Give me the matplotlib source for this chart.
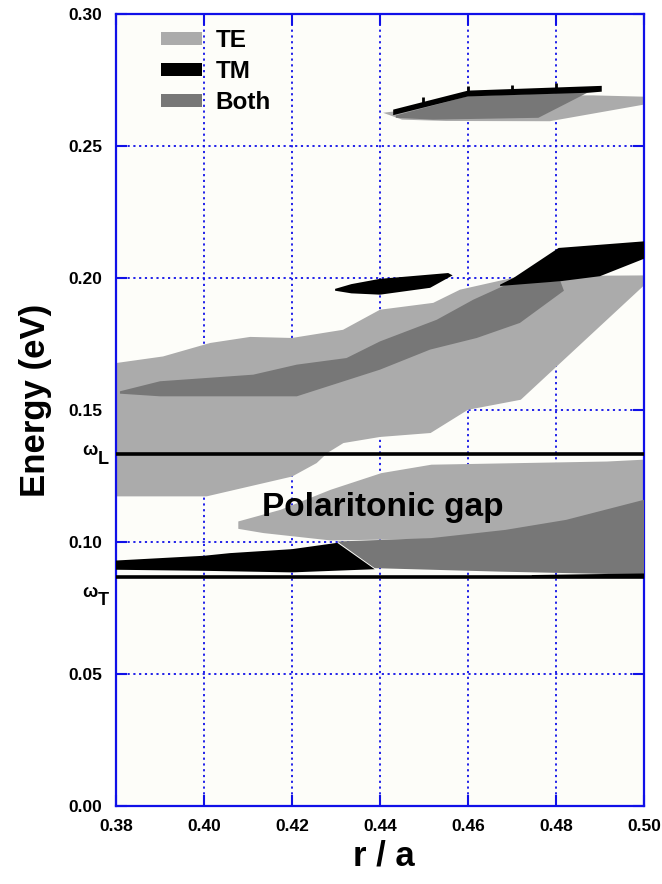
import matplotlib
matplotlib.use("Agg")
import matplotlib.pyplot as plt
import matplotlib.transforms as mtransforms
from matplotlib.patches import Patch

plt.rcParams['font.family'] = ['Liberation Sans', 'DejaVu Sans']
plt.rcParams['font.weight'] = 'bold'

# band edges: (r/a, energy) vertices, upper edge then lower edge
te_main_x = [0.38, 0.3907, 0.4014, 0.4105, 0.42, 0.4316, 0.44, 0.4521, 0.4582, 0.4718, 0.50,
             0.50, 0.472, 0.46, 0.4515, 0.44, 0.4317, 0.428, 0.4256, 0.42, 0.4006, 0.38]
te_main_y = [0.1676, 0.1701, 0.1752, 0.1775, 0.1771, 0.1802, 0.1878, 0.1904, 0.1954, 0.2005, 0.2008,
             0.1970, 0.1537, 0.1499, 0.1411, 0.1396, 0.1373, 0.1335, 0.1297, 0.1246, 0.1171, 0.1171]

both_mid_x = [0.3809, 0.39, 0.4112, 0.4211, 0.4324, 0.44, 0.4529, 0.4612, 0.4695, 0.481,
              0.4818, 0.4718, 0.462, 0.4514, 0.44, 0.4211, 0.39, 0.3809]
both_mid_y = [0.1569, 0.1607, 0.1632, 0.1670, 0.1695, 0.1758, 0.1840, 0.1916, 0.1979, 0.1986,
              0.1950, 0.1828, 0.1771, 0.1727, 0.1651, 0.1550, 0.1550, 0.1560]

tm_high_x = [0.4673, 0.4704, 0.4806, 0.50, 0.50, 0.49, 0.481, 0.4673]
tm_high_y = [0.1973, 0.1999, 0.2112, 0.2137, 0.2071, 0.2005, 0.1986, 0.1968]

tm_island_x = [0.4298, 0.4335, 0.44, 0.4555, 0.4565, 0.4514, 0.44, 0.4335, 0.4298]
tm_island_y = [0.1957, 0.1975, 0.1995, 0.2017, 0.2008, 0.1961, 0.1935, 0.1940, 0.1950]

te_low_x = [0.4078, 0.4174, 0.4288, 0.4403, 0.4517, 0.4916, 0.50,
            0.50, 0.4823, 0.4685, 0.4517, 0.4288, 0.4135, 0.4078]
te_low_y = [0.1076, 0.1120, 0.1196, 0.1259, 0.1291, 0.1303, 0.1310,
            0.1150, 0.1075, 0.1040, 0.1010, 0.1004, 0.1032, 0.1048]

both_low_x = [0.4303, 0.4517, 0.4685, 0.4823, 0.50, 0.50, 0.467, 0.4388]
both_low_y = [0.1000, 0.1013, 0.1044, 0.1082, 0.1158, 0.0874, 0.0886, 0.0899]

tm_low_x = [0.38, 0.40, 0.4059, 0.42, 0.4303, 0.4388, 0.42, 0.40, 0.38]
tm_low_y = [0.0928, 0.0946, 0.0956, 0.0971, 0.0995, 0.0895, 0.0883, 0.0889, 0.0893]

tm_sliver_x = [0.4745, 0.50, 0.50, 0.4745]
tm_sliver_y = [0.0873, 0.0879, 0.0866, 0.0866]

te_top_x = [0.4407, 0.445, 0.455, 0.4786, 0.50, 0.50, 0.4884, 0.46, 0.4436]
te_top_y = [0.2624, 0.2598, 0.2593, 0.2592, 0.2655, 0.2685, 0.2690, 0.2688, 0.2630]

both_top_x = [0.4436, 0.46, 0.4875, 0.476, 0.452, 0.4436]
both_top_y = [0.2614, 0.2687, 0.2703, 0.2605, 0.2598, 0.2605]

tm_top_x = [0.443, 0.46, 0.4904, 0.4904, 0.4875, 0.46, 0.443]
tm_top_y = [0.2636, 0.2708, 0.2726, 0.2704, 0.2700, 0.2686, 0.2615]

spike_x = [0.4498, 0.46, 0.4699, 0.48]
spike_lo = [0.2660, 0.2700, 0.2710, 0.2712]
spike_hi = [0.2682, 0.2724, 0.2728, 0.2736]

omega_L = 0.1331
omega_T = 0.0867

xticks = [0.38, 0.40, 0.42, 0.44, 0.46, 0.48, 0.50]
yticks = [0.00, 0.05, 0.10, 0.15, 0.20, 0.25, 0.30]

light = '#ababab'
dark = '#777777'
blue = '#1010e8'

fig = plt.figure(figsize=(6.62, 8.84), dpi=100)
ax = fig.add_axes([0.1752, 0.0888, 0.7976, 0.8959])
ax.set_facecolor('#fdfdf9')

ax.fill(te_main_x, te_main_y, color=light, lw=0, zorder=2)
ax.fill(te_low_x, te_low_y, color=light, lw=0, zorder=2)
ax.fill(te_top_x, te_top_y, color=light, lw=0, zorder=2)
ax.fill(both_mid_x, both_mid_y, color=dark, lw=0, zorder=3)
ax.fill(tm_low_x, tm_low_y, color='black', lw=0, zorder=3)
ax.fill(both_low_x, both_low_y, color=dark, lw=0, zorder=3)
ax.fill(both_top_x, both_top_y, color=dark, lw=0, zorder=3)
ax.fill(tm_high_x, tm_high_y, color='black', lw=0, zorder=4)
ax.fill(tm_island_x, tm_island_y, color='black', lw=0, zorder=4)
ax.fill(tm_sliver_x, tm_sliver_y, color='black', lw=0, zorder=4)
ax.fill(tm_top_x, tm_top_y, color='black', lw=0, zorder=4)
ax.vlines(spike_x, spike_lo, spike_hi, color='black', lw=2, zorder=4)

ax.axhline(omega_L, color='black', lw=2.6, zorder=5)
ax.axhline(omega_T, color='black', lw=2.6, zorder=5)

ax.set_xlim(0.38, 0.50)
ax.set_ylim(0.0, 0.30)
ax.set_xticks(xticks)
ax.set_yticks(yticks)
ax.set_xticklabels([f'{v:.2f}' for v in xticks])
ax.set_yticklabels([f'{v:.2f}' for v in yticks])
ax.grid(True, color=blue, ls=(0, (1.2, 2.0)), lw=1.3, zorder=1)
ax.set_axisbelow(True)
for s in ax.spines.values():
    s.set_color(blue)
    s.set_linewidth(1.6)
ax.tick_params(direction='in', length=8, width=1.5, color=blue,
               top=True, right=True, labelsize=12.5, pad=10)
for lab in ax.get_xticklabels() + ax.get_yticklabels():
    lab.set_fontweight('bold')

ax.set_xlabel('r / a', fontsize=25, fontweight='bold')
ax.xaxis.set_label_coords(0.5076, -0.064)
ax.xaxis.label.set_va('center')
ax.set_ylabel('Energy (eV)', fontsize=25, fontweight='bold')
ax.yaxis.set_label_coords(-0.1515, 0.511)
ax.yaxis.label.set_va('center')

trans = mtransforms.blended_transform_factory(ax.transAxes, ax.transData)
ax.text(-0.049, 0.1345, 'ω', transform=trans, ha='center', va='center',
        fontsize=13, fontweight='bold', clip_on=False)
ax.text(-0.0246, 0.1310, 'L', transform=trans, ha='center', va='center',
        fontsize=13, fontweight='bold', clip_on=False)
ax.text(-0.049, 0.0805, 'ω', transform=trans, ha='center', va='center',
        fontsize=13, fontweight='bold', clip_on=False)
ax.text(-0.0246, 0.0777, 'T', transform=trans, ha='center', va='center',
        fontsize=13, fontweight='bold', clip_on=False)

ax.text(0.4407, 0.1097, 'Polaritonic gap', ha='center', va='baseline',
        fontsize=24, fontweight='bold', zorder=6)

handles = [Patch(facecolor=light, edgecolor='none', label='TE'),
           Patch(facecolor='black', edgecolor='none', label='TM'),
           Patch(facecolor=dark, edgecolor='none', label='Both')]
leg = ax.legend(handles=handles, loc='upper left', bbox_to_anchor=(0.085, 0.980),
                frameon=False, fontsize=17.5, handlelength=1.7, handleheight=0.45,
                handletextpad=0.55, labelspacing=0.32, borderpad=0, borderaxespad=0)
for t in leg.get_texts():
    t.set_fontweight('bold')

fig.savefig('out.png', dpi=100, facecolor='white')
